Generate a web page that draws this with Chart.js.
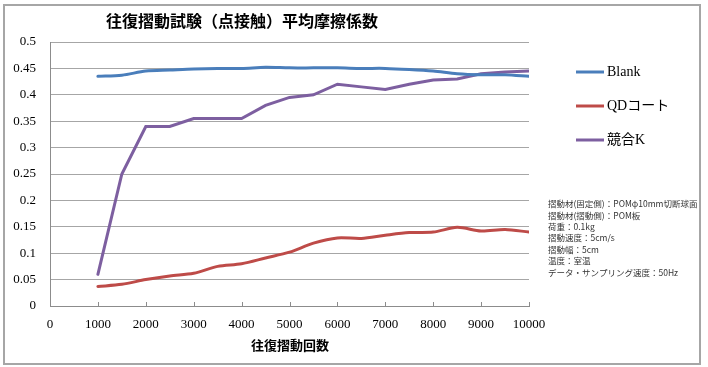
<!DOCTYPE html>
<html>
<head>
<meta charset="utf-8">
<script src="https://cdn.jsdelivr.net/npm/chart.js@4.4.1/dist/chart.umd.min.js"></script>
<style>
    body { margin: 0; background: #fff; }
    #wrap { width: 708px; height: 367px; position: relative; }
</style>
</head>
<body>
<div id="wrap"><canvas id="chart" width="708" height="367"></canvas></div>
<script>
const cycles = [1000, 1500, 2000, 2500, 3000, 3500, 4000, 4500, 5000, 5500, 6000, 6500, 7000, 7500, 8000, 8500, 9000, 9500, 10000];
const blank = [0.435, 0.437, 0.445, 0.447, 0.449, 0.45, 0.45, 0.452, 0.451, 0.451, 0.451, 0.45, 0.45, 0.448, 0.445, 0.44, 0.438, 0.438, 0.435];
const qdCoat = [0.037, 0.041, 0.05, 0.057, 0.062, 0.075, 0.08, 0.091, 0.102, 0.119, 0.129, 0.128, 0.134, 0.139, 0.14, 0.149, 0.142, 0.145, 0.14];
const kyogoK = [0.06, 0.25, 0.34, 0.34, 0.355, 0.355, 0.355, 0.38, 0.395, 0.4, 0.42, 0.415, 0.41, 0.42, 0.428, 0.43, 0.44, 0.443, 0.445];
const seriesNames = ["Blank", "QDコート", "競合K"];
const seriesColors = ["#4a7ebb", "#be4b48", "#7d5fa0"];

const chartTitle = "往復摺動試験（点接触）平均摩擦係数";
const xTitle = "往復摺動回数";
const notes = [
    "摺動材(固定側)：POMφ10mm切断球面",
    "摺動材(摺動側)：POM板",
    "荷重：0.1kg",
    "摺動速度：5cm/s",
    "摺動幅：5cm",
    "温度：室温",
    "データ・サンプリング速度：50Hz"
];

const serif = "'Liberation Serif', 'DejaVu Serif', 'Noto Sans CJK JP', serif";
const gothic = "'Noto Sans CJK JP', sans-serif";

function toPoints(values){
    return cycles.map((c, i) => ({ x: c, y: values[i] }));
}

// frame, title, legend, notes, x tick marks
const decorations = {
    id: "decorations",
    afterDraw(chart){
        const ctx = chart.ctx;
        const area = chart.chartArea;
        const xs = chart.scales.x;
        ctx.save();

        // outer frame
        ctx.strokeStyle = "#a6a6a6";
        ctx.lineWidth = 2;
        ctx.strokeRect(4, 5, 696, 359);

        // small tick marks on the x axis
        ctx.strokeStyle = "#8c8c8c";
        ctx.lineWidth = 1;
        xs.ticks.forEach(t => {
            const px = Math.round(xs.getPixelForValue(t.value)) + 0.5;
            ctx.beginPath();
            ctx.moveTo(px, area.bottom - 4);
            ctx.lineTo(px, area.bottom);
            ctx.stroke();
        });

        // title
        ctx.fillStyle = "#000";
        ctx.textAlign = "center";
        ctx.textBaseline = "middle";
        ctx.font = "bold 16px " + gothic;
        ctx.fillText(chartTitle, 242, 21);

        // x axis title
        ctx.font = "bold 13px " + gothic;
        ctx.fillText(xTitle, 290, 345);

        // legend
        ctx.textAlign = "left";
        ctx.font = "14px " + serif;
        const legendY = [72, 106, 140];
        chart.data.datasets.forEach((ds, i) => {
            ctx.strokeStyle = ds.borderColor;
            ctx.lineWidth = 3;
            ctx.beginPath();
            ctx.moveTo(576, legendY[i]);
            ctx.lineTo(604, legendY[i]);
            ctx.stroke();
            ctx.fillStyle = "#000";
            ctx.fillText(ds.label, 607, legendY[i]);
        });

        // test conditions
        ctx.font = "8.5px " + gothic;
        ctx.fillStyle = "#333";
        notes.forEach((line, i) => {
            ctx.fillText(line, 548, 204 + i * 11.4);
        });

        ctx.restore();
    }
};

new Chart(document.getElementById("chart"), {
    type: "line",
    data: {
        datasets: [
            { label: seriesNames[0], data: toPoints(blank), borderColor: seriesColors[0], tension: 0.3 },
            { label: seriesNames[1], data: toPoints(qdCoat), borderColor: seriesColors[1], tension: 0.3 },
            { label: seriesNames[2], data: toPoints(kyogoK), borderColor: seriesColors[2], tension: 0 }
        ]
    },
    options: {
        responsive: false,
        animation: false,
        layout: { padding: { top: 42, right: 179, left: 0, bottom: 0 } },
        elements: {
            point: { radius: 0 },
            line: { borderWidth: 3, fill: false, borderCapStyle: "round" }
        },
        plugins: {
            legend: { display: false },
            title: { display: false },
            tooltip: { enabled: false }
        },
        scales: {
            x: {
                type: "linear",
                min: 0,
                max: 10000,
                ticks: {
                    stepSize: 1000,
                    color: "#000",
                    font: { family: serif, size: 13 },
                    padding: 11,
                    maxRotation: 0,
                    callback: v => String(v)
                },
                grid: { display: false, drawTicks: false },
                border: { display: true, color: "#8c8c8c", width: 1 },
                afterFit(scale){ scale.height = 61; }
            },
            y: {
                min: 0,
                max: 0.5,
                ticks: {
                    stepSize: 0.05,
                    color: "#000",
                    font: { family: serif, size: 13 },
                    padding: 14,
                    callback: v => String(+v.toFixed(2))
                },
                grid: { color: "#a6a6a6", lineWidth: 1, drawTicks: false },
                border: { display: true, color: "#8c8c8c", width: 1 },
                afterFit(scale){ scale.width = 50; }
            }
        }
    },
    plugins: [decorations]
});
</script>
</body>
</html>
